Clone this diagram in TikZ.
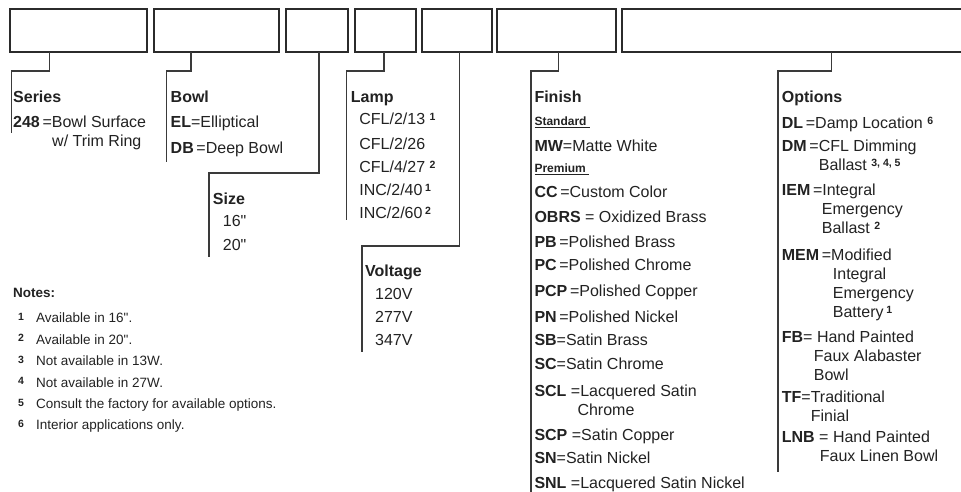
\documentclass[tikz,border=0pt]{standalone}
\usepackage{fontspec}
\setmainfont{Liberation Sans}
\usepackage{xcolor}
\usetikzlibrary{positioning}
\definecolor{boxgray}{HTML}{2B2B2B}
\definecolor{linegray}{HTML}{3A3A3A}
\definecolor{inkgray}{HTML}{222222}
\newcommand{\fnum}[1]{\raisebox{\dimexpr0.72em-7.4pt\relax}{\fontsize{10.5}{11}\selectfont\bfseries #1}}
\newcommand{\code}[1]{\textbf{#1}}
\newcommand{\inch}{\textquotedbl}
\newcommand{\grade}[1]{{\fontsize{12}{14}\selectfont\underline{\textbf{#1}\ }}}
\tikzset{
  fieldbox/.style={draw=boxgray,line width=2.3pt,minimum height=43pt,
    inner sep=0pt,outer sep=0pt,anchor=north west},
  leader/.style={draw=linegray,line width=1.3pt},
  fieldtext/.style={anchor=north west,inner sep=0pt,align=left,text=inkgray,
    font=\fontsize{16}{19}\selectfont},
  notetext/.style={anchor=north west,inner sep=0pt,align=left,text=inkgray,
    font=\fontsize{13.5}{21.4}\selectfont}
}
\begin{document}
\begin{tikzpicture}[x=1pt,y=-1pt]
\useasboundingbox (0,0) rectangle (961,491);
\clip (0,0) rectangle (961,491);

% ordering boxes
\node[fieldbox, minimum width=137.3pt] (series-box) at (9.7,9) {};
\node[fieldbox, minimum width=125pt] (bowl-box) at (154,9) {};
\node[fieldbox, minimum width=61.7pt] (size-box) at (286,9) {};
\node[fieldbox, minimum width=61.6pt] (lamp-box) at (354.7,9) {};
\node[fieldbox, minimum width=69.7pt] (volt-box) at (422.3,9) {};
\node[fieldbox, minimum width=119pt] (finish-box) at (497.3,9) {};
\node[fieldbox, minimum width=420pt] (option-box) at (622.3,9) {};

% ends of the leaders
\coordinate (series-end) at (11.5,133);
\coordinate (bowl-end) at (166.5,162);
\coordinate (size-end) at (209,257);
\coordinate (lamp-end) at (346.5,220);
\coordinate (volt-end) at (362,352);
\coordinate (finish-end) at (531,495);
\coordinate (option-end) at (778,472);

\draw[leader] ([xshift=-29pt]series-box.south) -- ++(0,19) -| (series-end);
\draw[leader] ([xshift=-25.5pt]bowl-box.south) -- ++(0,19) -| (bowl-end);
\draw[leader] ([xshift=2pt]size-box.south) -- ++(0,121) -| (size-end);
\draw[leader] ([xshift=-1.5pt]lamp-box.south) -- ++(0,19) -| (lamp-end);
\draw[leader] ([xshift=2pt]volt-box.south) -- ++(0,194) -| (volt-end);
\draw[leader] ([xshift=2pt]finish-box.south) -- ++(0,19) -| (finish-end);
\draw[leader] ([xshift=-1pt]option-box.south) -- ++(0,19) -| (option-end);

% field descriptions
\node[fieldtext] (series) at (13,91) {\code{Series}\\[6pt]
  \code{248}\,=Bowl Surface\\
  \hspace*{39pt}w/ Trim Ring};
\node[fieldtext] (bowl) at (170.5,91) {\code{Bowl}\\[6pt]
  \code{EL}=Elliptical\\[7pt]
  \code{DB}\,=Deep Bowl};
\node[fieldtext] (size) at (212.7,193) {\code{Size}\\[3pt]
  \hspace*{10pt}16\inch\\[5pt]
  \hspace*{10pt}20\inch};
\node[fieldtext] (lamp) at (350.7,91) {\code{Lamp}\\[3pt]
  \hspace*{8.5pt}CFL/2/13 \fnum{1}\\[6pt]
  \hspace*{8.5pt}CFL/2/26\\[4pt]
  \hspace*{8.5pt}CFL/4/27 \fnum{2}\\[4pt]
  \hspace*{8.5pt}INC/2/40\,\fnum{1}\\[4pt]
  \hspace*{8.5pt}INC/2/60\,\fnum{2}};
\node[fieldtext] (volt) at (365,265) {\code{Voltage}\\[4pt]
  \hspace*{10pt}120V\\[4pt]
  \hspace*{10pt}277V\\[4pt]
  \hspace*{10pt}347V};
\node[fieldtext] (finish) at (534.3,91) {\code{Finish}\\[4pt]
  \grade{Standard}\\[7pt]
  \code{MW}=Matte White\\[2pt]
  \grade{Premium}\\[6pt]
  \code{CC}\,=Custom Color\\[6pt]
  \code{OBRS} = Oxidized Brass\\[6pt]
  \code{PB}\,=Polished Brass\\[4pt]
  \code{PC}\,=Polished Chrome\\[7pt]
  \code{PCP}\,=Polished Copper\\[7pt]
  \code{PN}\,=Polished Nickel\\[4pt]
  \code{SB}=Satin Brass\\[5pt]
  \code{SC}=Satin Chrome\\[8pt]
  \code{SCL} =Lacquered Satin\\
  \hspace*{43pt}Chrome\\[6pt]
  \code{SCP} =Satin Copper\\[4pt]
  \code{SN}=Satin Nickel\\[6pt]
  \code{SNL} =Lacquered Satin Nickel};
\node[fieldtext] (option) at (781.7,91) {\code{Options}\\[7pt]
  \code{DL}\,=Damp Location \fnum{6}\\[4pt]
  \code{DM}\,=CFL Dimming\\
  \hspace*{37pt}Ballast \fnum{3, 4, 5}\\[6pt]
  \code{IEM}\,=Integral\\
  \hspace*{40pt}Emergency\\
  \hspace*{40pt}Ballast \fnum{2}\\[8pt]
  \code{MEM}\,=Modified\\
  \hspace*{51pt}Integral\\
  \hspace*{51pt}Emergency\\
  \hspace*{51pt}Battery\,\fnum{1}\\[6pt]
  \code{FB}= Hand Painted\\
  \hspace*{32pt}Faux Alabaster\\
  \hspace*{32pt}Bowl\\[3pt]
  \code{TF}=Traditional\\
  \hspace*{29pt}Finial\\[2pt]
  \code{LNB} = Hand Painted\\
  \hspace*{38pt}Faux Linen Bowl};

% notes
\node[notetext] (notes) at (13,288) {\code{Notes:}\\[4pt]
  \hspace*{5pt}\makebox[18pt][l]{\fnum{1}}Available in 16\inch.\\
  \hspace*{5pt}\makebox[18pt][l]{\fnum{2}}Available in 20\inch.\\
  \hspace*{5pt}\makebox[18pt][l]{\fnum{3}}Not available in 13W.\\
  \hspace*{5pt}\makebox[18pt][l]{\fnum{4}}Not available in 27W.\\
  \hspace*{5pt}\makebox[18pt][l]{\fnum{5}}Consult the factory for available options.\\
  \hspace*{5pt}\makebox[18pt][l]{\fnum{6}}Interior applications only.};
\end{tikzpicture}
\end{document}
